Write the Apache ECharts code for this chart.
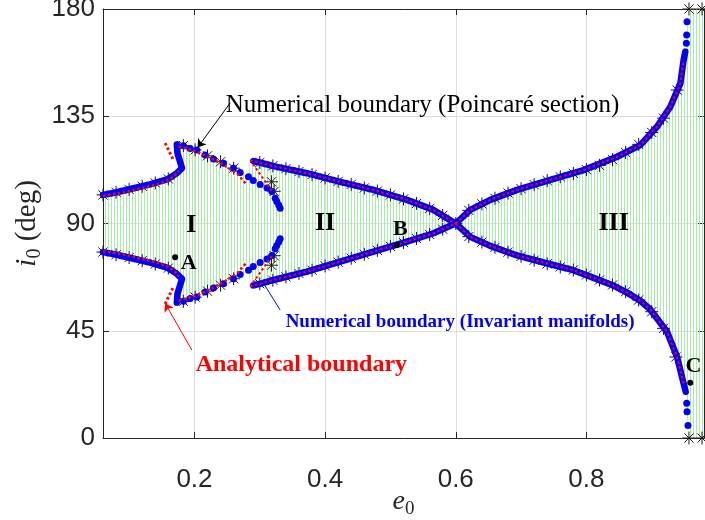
<!DOCTYPE html>
<html><head><meta charset="utf-8">
<script src="https://cdn.jsdelivr.net/npm/echarts@6/dist/echarts.min.js"></script>
<style>html,body{margin:0;padding:0;background:#fff}#c{width:705px;height:520px}</style>
</head><body><div id="c"></div>
<script>
// ---------- tick labels ----------
const eTicks = [0.2, 0.4, 0.6, 0.8];
const iTicks = [0, 45, 90, 135, 180];

// ---------- numerical boundary (invariant manifolds), [e0, i0] ----------
const numUpperI = [[0.06,102.0],[0.081,103.1],[0.107,104.8],[0.132,106.4],[0.158,108.5],[0.173,111.1],[0.181,113.2],[0.178,115.9],[0.174,119.5],[0.173,123.2]];
const numLowerI = [[0.06,78.0],[0.081,76.9],[0.107,75.2],[0.132,73.6],[0.158,71.5],[0.173,68.9],[0.181,66.8],[0.178,64.1],[0.174,60.5],[0.173,56.8]];
const numUpperJ = [[0.1832,122.6],[0.1934,121.5],[0.2037,120.8],[0.2164,118.7],[0.2291,117.1],[0.2444,115.3],[0.2597,113.2],[0.27,111.4],[0.2827,109.6],[0.29,108.0],[0.3006,106.4],[0.311,104.9],[0.3185,103.4],[0.3236,100.6],[0.326,99.2],[0.329,97.8],[0.3312,96.4]];
const numLowerJ = [[0.1832,57.4],[0.1934,58.5],[0.2037,59.2],[0.2164,61.3],[0.2291,62.9],[0.2444,64.7],[0.2597,66.8],[0.27,68.6],[0.2827,70.4],[0.29,72.0],[0.3006,73.6],[0.311,75.1],[0.3185,76.6],[0.3236,79.4],[0.326,80.8],[0.329,82.2],[0.3312,83.6]];
const numUpperII = [[0.29,116.2],[0.30,115.6],[0.321,114.1],[0.3721,111.1],[0.4232,107.5],[0.4741,104.1],[0.5253,99.9],[0.566,95.7],[0.5865,92.2],[0.6,90.0]];
const numLowerII = [[0.29,64.0],[0.30,64.7],[0.321,66.3],[0.3721,69.8],[0.4232,74.0],[0.4741,78.2],[0.5253,82.4],[0.566,85.9],[0.5865,88.4],[0.6,90.0]];
const numUpperIII = [[0.6,90.0],[0.6222,95.7],[0.6528,99.9],[0.6937,104.1],[0.7447,108.3],[0.7957,112.4],[0.8469,118.0],[0.8825,122.9],[0.9081,130.6],[0.9285,139.0],[0.9438,148.8],[0.9488,158.6],[0.9514,162.1]];
const numUpperIIIEnd = [[0.953,165.6],[0.9535,169.1],[0.954,174.7]];
const numLowerIII = [[0.6,90.0],[0.6222,84.4],[0.6528,80.6],[0.6937,76.6],[0.7447,72.9],[0.78,70.4],[0.811,67.2],[0.84,64.1],[0.8622,61.0],[0.8825,57.6],[0.8974,54.0],[0.9234,44.6],[0.9387,34.1],[0.9488,22.9],[0.952,19.4]];
const numLowerIIIEnd = [[0.9535,14.6],[0.954,11.0],[0.9555,5.2]];

// ---------- analytical boundary ----------
const anaUpperTip = [[0.1551,123.7],[0.1678,116.6]];
const anaLowerTip = [[0.1551,56.3],[0.1678,63.4]];
const anaUpperI = [[0.06,101.6],[0.09,102.9],[0.12,104.8],[0.145,106.6],[0.16,108.2],[0.17,110.2],[0.176,112.2]];
const anaLowerI = [[0.06,78.4],[0.09,77.1],[0.12,75.2],[0.145,73.4],[0.16,71.8],[0.17,69.8],[0.176,67.8]];
const anaUpperIb = [[0.176,122.3],[0.19,121.2],[0.2087,119.6],[0.2394,115.4],[0.2649,111.1],[0.2802,106.2]];
const anaLowerIb = [[0.176,57.7],[0.19,58.8],[0.2087,60.4],[0.2394,64.6],[0.2649,68.9],[0.2802,73.8]];
const anaUpperSteep = [[0.2853,116.6],[0.321,102.7]];
const anaLowerSteep = [[0.2853,63.5],[0.321,77.3]];
const anaUpperII = [[0.2853,116.6],[0.321,114.1],[0.3721,111.1],[0.4232,107.5],[0.4741,104.1],[0.5253,99.9],[0.566,95.7],[0.5865,92.2],[0.6,90.0]];
const anaLowerII = [[0.2853,63.5],[0.321,66.3],[0.3721,69.8],[0.4232,74.0],[0.4741,78.2],[0.5253,82.4],[0.566,85.9],[0.5865,88.4],[0.6,90.0]];
const anaUpperIII = [[0.6,90.0],[0.6222,95.7],[0.6528,99.9],[0.6937,104.1],[0.7447,108.3],[0.7957,112.4],[0.8469,118.0],[0.8825,122.9],[0.9081,130.6],[0.9285,139.0],[0.9438,148.8],[0.9488,158.6]];
const anaLowerIII = [[0.6,90.0],[0.6222,84.4],[0.6528,80.6],[0.6937,76.6],[0.7447,72.9],[0.78,70.4],[0.811,67.2],[0.84,64.1],[0.8622,61.0],[0.8825,57.6],[0.8974,54.0],[0.9234,44.6],[0.9387,34.1],[0.9488,22.9]];

// ---------- numerical boundary (Poincaré section) ----------
const poincareUpper = [[0.06,102.0],[0.08,103.1],[0.10,104.3],[0.12,105.6],[0.14,107.0],[0.16,108.7],[0.183,122.7],[0.201,120.9],[0.22,118.4],[0.24,115.9],[0.26,113.2],
  [0.30,115.6],[0.318,107.5],[0.322,103.5],[0.32,114.2],[0.34,113.0],[0.36,111.8],[0.38,110.5],[0.40,109.1],[0.42,107.7],[0.44,106.4],[0.46,104.9],[0.48,103.6],[0.50,102.0],[0.52,100.3],[0.54,98.4],[0.56,96.3],[0.58,93.4],[0.60,90.0],
  [0.62,95.5],[0.64,98.2],[0.66,100.6],[0.68,102.8],[0.70,104.6],[0.72,106.3],[0.74,108.0],[0.76,109.6],[0.78,111.0],[0.80,112.6],[0.82,114.4],[0.84,116.8],[0.86,119.8],[0.88,123.2],[0.90,128.2],[0.918,134.2],[0.939,146.0],[0.957,180.0],[0.977,180.0]];
const poincareLower = [[0.06,78.0],[0.08,76.9],[0.10,75.7],[0.12,74.4],[0.14,73.0],[0.16,71.3],[0.183,57.3],[0.201,59.1],[0.22,61.6],[0.24,64.1],[0.26,66.8],
  [0.30,64.7],[0.318,72.5],[0.322,76.5],[0.32,66.2],[0.34,67.6],[0.36,69.0],[0.38,70.4],[0.40,72.2],[0.42,73.8],[0.44,75.4],[0.46,77.1],[0.48,78.7],[0.50,80.4],[0.52,82.0],[0.54,83.7],[0.56,85.4],[0.58,87.6],
  [0.62,84.5],[0.64,82.2],[0.66,80.0],[0.68,78.0],[0.70,76.2],[0.72,74.6],[0.74,73.1],[0.76,71.8],[0.78,70.5],[0.80,68.4],[0.82,66.3],[0.84,64.2],[0.86,61.4],[0.88,57.9],[0.90,53.0],[0.918,46.0],[0.937,34.0],[0.957,0.0],[0.977,0.0]];

// ---------- stable region outline (green hatching) ----------
const regionUpper = [[0.06,102.0],[0.081,103.1],[0.107,104.8],[0.132,106.4],[0.158,108.5],[0.173,111.1],[0.181,113.2],[0.178,115.9],[0.174,119.5],[0.173,123.2],[0.183,122.6],[0.204,120.8],[0.229,117.1],[0.26,113.2],[0.283,109.6],[0.2853,116.6],[0.321,114.1],[0.3721,111.1],[0.4232,107.5],[0.4741,104.1],[0.5253,99.9],[0.566,95.7],[0.5865,92.2],[0.6,90.0],[0.6222,95.7],[0.6528,99.9],[0.6937,104.1],[0.7447,108.3],[0.7957,112.4],[0.8469,118.0],[0.8825,122.9],[0.9081,130.6],[0.9285,139.0],[0.9438,148.8],[0.9488,158.6],[0.954,170.0],[0.956,180.0],[0.98,180.0]];
const regionLower = [[0.06,78.0],[0.081,76.9],[0.107,75.2],[0.132,73.6],[0.158,71.5],[0.173,68.9],[0.181,66.8],[0.178,64.1],[0.174,60.5],[0.173,56.8],[0.183,57.4],[0.204,59.2],[0.229,62.9],[0.26,66.8],[0.283,70.4],[0.2853,63.5],[0.321,66.3],[0.3721,69.8],[0.4232,74.0],[0.4741,78.2],[0.5253,82.4],[0.566,85.9],[0.5865,88.4],[0.6,90.0],[0.6222,84.4],[0.6528,80.6],[0.6937,76.6],[0.7447,72.9],[0.78,70.4],[0.811,67.2],[0.84,64.1],[0.8622,61.0],[0.8825,57.6],[0.8974,54.0],[0.9234,44.6],[0.9387,34.1],[0.9488,22.9],[0.954,10.0],[0.956,0.0],[0.98,0.0]];

// ---------- marked points ----------
const pointNames = ['A','B','C'];
const pointValues = [[0.1704,75.8],[0.51,81.0],[0.959,23.2]];

// ======================================================
const chart = echarts.init(document.getElementById('c'), null, {renderer:'canvas'});
const pat = document.createElement('canvas');
pat.width = 3; pat.height = 4;
const pg = pat.getContext('2d');
pg.fillStyle = '#a6eca6'; pg.fillRect(0,0,1,4);
const fillPoly = regionUpper.concat(regionLower.slice().reverse());

const AXC = '#262626';
const SERIF = '"Liberation Serif","Times New Roman",serif';
const SANS = '"Liberation Sans",Arial,Helvetica,sans-serif';
const STAR = 'path://M10,0L10,20M0,10L20,10M2.93,2.93L17.07,17.07M2.93,17.07L17.07,2.93';
const BLUE = '#0000ff', RED = '#ff0000';

function blueLine(d){ return {type:'line', data:d, showSymbol:false, symbol:'none', clip:false, silent:true,
  lineStyle:{color:BLUE, width:6.5, cap:'round', join:'round', opacity:1}, z:3}; }
function blueDots(d){ return {type:'scatter', data:d, symbol:'circle', symbolSize:7, clip:false, silent:true,
  itemStyle:{color:BLUE, opacity:1}, z:3}; }
function redLine(d, w){ return {type:'line', data:d, showSymbol:false, symbol:'none', clip:false, silent:true,
  lineStyle:{color:RED, width:w||2.5, type:[2.5,2.5], opacity:1}, z:4}; }

function txt(value, text, opt){
  return {value:value, label:Object.assign({show:true, formatter:text, position:'inside', align:'center', verticalAlign:'middle',
    fontFamily:SERIF, fontWeight:'bold', fontSize:26, color:'#000', opacity:1}, opt||{})};
}

const nameRichX = {
  it:{fontFamily:SERIF, fontStyle:'italic', fontSize:28, color:AXC, lineHeight:34, verticalAlign:'middle'},
  sub:{fontFamily:SERIF, fontSize:19, color:AXC, lineHeight:34, verticalAlign:'bottom'},
  n:{fontFamily:SERIF, fontSize:27, color:AXC, lineHeight:34, verticalAlign:'middle'}
};
const nameRichY = {
  it:{fontFamily:SERIF, fontStyle:'italic', fontSize:30, color:AXC, lineHeight:36, verticalAlign:'middle'},
  sub:{fontFamily:SERIF, fontSize:20, color:AXC, lineHeight:36, verticalAlign:'bottom'},
  n:{fontFamily:SERIF, fontSize:29, color:AXC, lineHeight:36, verticalAlign:'middle'}
};

const option = {
  animation:false,
  backgroundColor:'#fff',
  grid:{left:103, right:1, top:9, bottom:82, containLabel:false, outerBoundsMode:'none'},
  xAxis:[
    {type:'value', min:0.06, max:0.98, position:'bottom',
     axisLine:{show:true, onZero:false, lineStyle:{color:AXC, width:1}},
     axisTick:{show:true, inside:true, length:6, lineStyle:{color:AXC}},
     axisLabel:{fontFamily:SANS, fontSize:26, color:AXC, margin:29,
       formatter:function(v){ const t = eTicks.find(x=>Math.abs(x-v)<1e-9); return t===undefined?'':String(t); }},
     splitLine:{show:true, lineStyle:{color:'#dedede', width:1}},
     name:'{it|e}{sub|0}', nameLocation:'middle', nameGap:47, nameMoveOverlap:false,
     nameTextStyle:{fontFamily:SERIF, fontSize:27, color:AXC, rich:nameRichX}},
    {type:'value', min:0.06, max:0.98, position:'top',
     axisLine:{show:true, onZero:false, lineStyle:{color:AXC, width:1}},
     axisTick:{show:true, inside:true, length:6, lineStyle:{color:AXC}},
     axisLabel:{show:false}, splitLine:{show:false}}
  ],
  yAxis:[
    {type:'value', min:0, max:180, interval:45, position:'left',
     axisLine:{show:true, onZero:false, lineStyle:{color:AXC, width:1}},
     axisTick:{show:true, inside:true, length:6, lineStyle:{color:AXC}},
     axisLabel:{fontFamily:SANS, fontSize:26, color:AXC, margin:8,
       formatter:function(v){ const t = iTicks.find(x=>Math.abs(x-v)<1e-9); return t===undefined?'':String(t); }},
     splitLine:{show:true, lineStyle:{color:'#dedede', width:1}},
     name:'{it|i}{sub|0}{n| (deg)}', nameLocation:'middle', nameGap:58, nameMoveOverlap:false,
     nameTextStyle:{fontFamily:SERIF, fontSize:29, color:AXC, rich:nameRichY}},
    {type:'value', min:0, max:180, interval:45, position:'right',
     axisLine:{show:true, onZero:false, lineStyle:{color:AXC, width:1}},
     axisTick:{show:true, inside:true, length:6, lineStyle:{color:AXC}},
     axisLabel:{show:false}, splitLine:{show:false}}
  ],
  series:[
    {type:'custom', data:[[0.5,90]], clip:true, silent:true, z:1,
     renderItem:function(params, api){
       return {type:'polygon', shape:{points:fillPoly.map(p=>api.coord(p))}, style:{fill:{image:pat, repeat:'repeat'}}, silent:true};
     }},
    {type:'scatter', data:poincareUpper.concat(poincareLower), symbol:STAR, symbolSize:13, symbolKeepAspect:true, clip:false, silent:true,
     itemStyle:{color:'rgba(0,0,0,0)', borderColor:'#1a1a1a', borderWidth:1, opacity:1}, z:2},
    blueLine(numUpperI), blueLine(numLowerI),
    blueLine(numUpperII), blueLine(numLowerII),
    blueLine(numUpperIII), blueLine(numLowerIII),
    blueDots(numUpperJ.concat(numLowerJ, numUpperIIIEnd, numLowerIIIEnd)),
    redLine(anaUpperTip, 3), redLine(anaLowerTip, 3),
    redLine(anaUpperI), redLine(anaLowerI),
    redLine(anaUpperIb), redLine(anaLowerIb),
    redLine(anaUpperSteep, 2), redLine(anaLowerSteep, 2),
    redLine(anaUpperII, 2), redLine(anaLowerII, 2),
    redLine(anaUpperIII, 2), redLine(anaLowerIII, 2),
    {type:'lines', coordinateSystem:'cartesian2d', silent:true, z:6,
     data:[
       {coords:[[0.2547,140.6],[0.2049,121.9]], lineStyle:{color:'#000', width:1, opacity:1}},
       {coords:[[0.196,36.9],[0.1551,56.5]], lineStyle:{color:RED, width:1, opacity:1}}
     ],
     lineStyle:{opacity:1},
     symbol:['none','arrow'], symbolSize:8},
    {type:'lines', coordinateSystem:'cartesian2d', silent:true, z:6,
     data:[{coords:[[0.3312,53.7],[0.306,64.8]], lineStyle:{color:BLUE, width:1, opacity:1}}],
     lineStyle:{opacity:1},
     symbol:['none','none']},
    {type:'scatter', data:pointValues, symbolSize:6, itemStyle:{color:'#000', opacity:1}, clip:false, silent:true, z:7},
    {type:'scatter', symbolSize:1, silent:true, clip:false, z:8, itemStyle:{color:'rgba(0,0,0,0)', opacity:1},
     data:[
       txt([0.195,89.4],'I'), txt([0.40,90.1],'II'), txt([0.8417,90.1],'III'),
       txt([0.191,73.3],pointNames[0],{fontSize:22}), txt([0.515,87.4],pointNames[1],{fontSize:22}), txt([0.9637,29.9],pointNames[2],{fontSize:22}),
       txt([0.247,139.7],'Numerical boundary (Poincaré section)',{position:'right', distance:0, align:'left', fontWeight:'normal', fontSize:25, color:'#000'}),
       txt([0.3388,48.7],'Numerical boundary (Invariant manifolds)',{position:'right', distance:0, align:'left', fontSize:19, color:BLUE}),
       txt([0.2011,30.8],'Analytical boundary',{position:'right', distance:0, align:'left', fontSize:24, color:RED})
     ]}
  ]
};
chart.setOption(option);
</script></body></html>
